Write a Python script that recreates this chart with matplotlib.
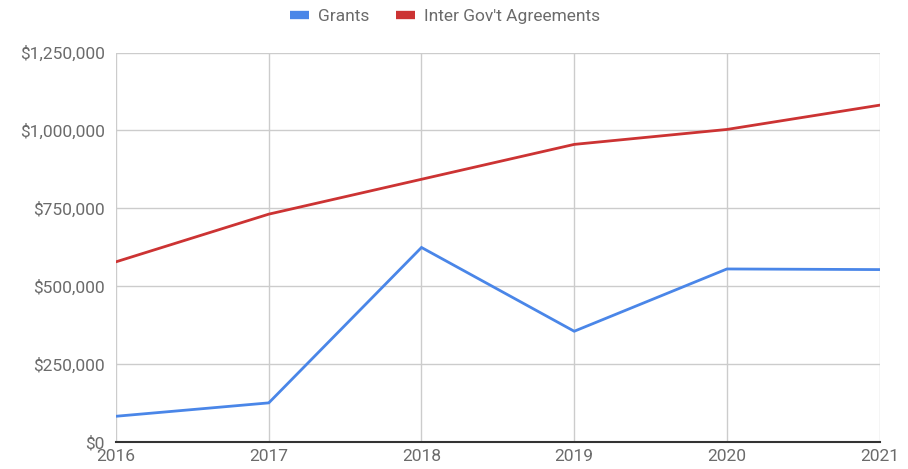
import matplotlib
matplotlib.use("Agg")
import matplotlib.pyplot as plt
from matplotlib.lines import Line2D
from matplotlib.ticker import FuncFormatter

years = [2016, 2017, 2018, 2019, 2020, 2021]
grants = [82000, 125000, 624000, 355000, 555000, 553000]
inter_gov = [578000, 731000, 843000, 955000, 1003000, 1081000]
y_ticks = [0, 250000, 500000, 750000, 1000000, 1250000]

blue = "#4a86e8"
red = "#cc3333"
text_col = "#6b6b6b"

plt.rcParams["font.family"] = ["Roboto", "DejaVu Sans"]
plt.rcParams["font.size"] = 12.5

fig = plt.figure(figsize=(9.08, 4.69), dpi=100)
ax = fig.add_axes([0.1278, 0.058, 0.841, 0.830])

ax.plot(years, grants, color=blue, linewidth=2.0, solid_joinstyle="miter")
ax.plot(years, inter_gov, color=red, linewidth=2.0, solid_joinstyle="miter")

ax.set_xlim(years[0], years[-1])
ax.set_ylim(0, 1250000)
ax.set_xticks(years)
ax.set_yticks(y_ticks)
ax.yaxis.set_major_formatter(FuncFormatter(lambda v, p: "${:,.0f}".format(v)))

ax.grid(True, color="#cccccc", linewidth=1.0)
ax.set_axisbelow(True)
for side in ["top", "right", "left"]:
    ax.spines[side].set_visible(False)
ax.spines["bottom"].set_color("#333333")
ax.spines["bottom"].set_linewidth(1.5)
ax.spines["bottom"].set_zorder(3)

ax.tick_params(axis="both", length=0, colors=text_col, labelsize=12.5)
ax.tick_params(axis="y", pad=8)
ax.tick_params(axis="x", pad=5)

handles = [Line2D([], [], color=blue, linewidth=6, solid_capstyle="butt"),
           Line2D([], [], color=red, linewidth=6, solid_capstyle="butt")]
leg = fig.legend(handles, ["Grants", "Inter Gov't Agreements"],
                 loc="upper center", bbox_to_anchor=(0.49, 1.015), ncol=2,
                 frameon=False, handlelength=1.1, handletextpad=0.55,
                 columnspacing=1.5, fontsize=12.5)
for t in leg.get_texts():
    t.set_color(text_col)

fig.savefig("out.png", dpi=100)
